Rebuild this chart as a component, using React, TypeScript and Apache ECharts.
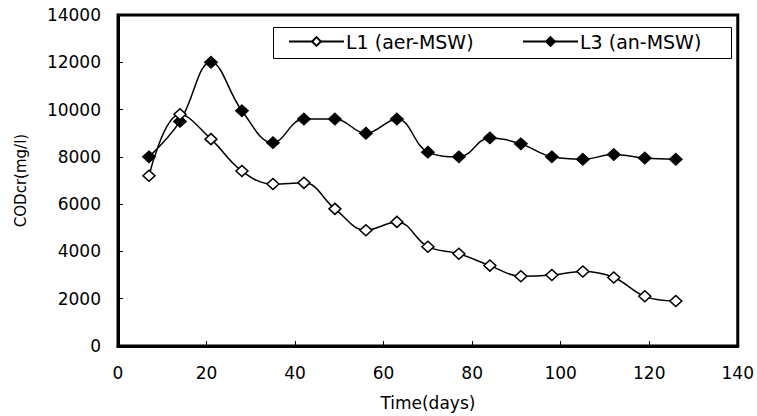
import React, { useEffect, useRef } from "react";
import * as echarts from "echarts";

const days = [7, 14, 21, 28, 35, 42, 49, 56, 63, 70, 77, 84, 91, 98, 105, 112, 119, 126];
const l1Values = [7200, 9800, 8750, 7400, 6850, 6900, 5800, 4900, 5250, 4200, 3900, 3400, 2950, 3000, 3150, 2900, 2100, 1900];
const l3Values = [8000, 9500, 12000, 9950, 8600, 9600, 9600, 9000, 9600, 8200, 8000, 8800, 8550, 8000, 7900, 8100, 7950, 7900];
const l1Name = "L1 (aer-MSW)";
const l3Name = "L3 (an-MSW)";
const xAxisTitle = "Time(days)";
const yAxisTitle = "CODcr(mg/l)";

const FONT = "DejaVu Sans";

export default function App() {
  const ref = useRef<HTMLDivElement>(null);
  useEffect(() => {
    if (!ref.current) return;
    const chart = echarts.init(ref.current, undefined, { renderer: "svg" });
    const toPairs = (vals: number[]) => days.map((d, i) => [d, vals[i]]);
    const legendText = { fontFamily: FONT, fontSize: 19, color: "#000" };
    chart.setOption({
      animation: false,
      backgroundColor: "#fff",
      grid: {
        left: 118,
        top: 15,
        right: 19,
        bottom: 67,
        show: true,
        borderColor: "#000",
        borderWidth: 3,
        backgroundColor: "transparent",
      },
      graphic: [
        {
          type: "rect",
          shape: { x: 273.5, y: 27.5, width: 458, height: 31 },
          style: { fill: "#fff", stroke: "#000", lineWidth: 1 },
          z: 5,
        },
      ],
      legend: [
        {
          data: [l1Name],
          left: 288,
          top: 32,
          itemWidth: 55,
          itemHeight: 11,
          itemGap: 0,
          padding: 0,
          textStyle: { ...legendText, padding: [0, 0, 0, -3] },
          z: 10,
        },
        {
          data: [l3Name],
          left: 522,
          top: 32,
          itemWidth: 55,
          itemHeight: 11,
          itemGap: 0,
          padding: 0,
          textStyle: { ...legendText, padding: [0, 0, 0, -3] },
          z: 10,
        },
      ],
      xAxis: {
        type: "value",
        min: 0,
        max: 140,
        interval: 20,
        name: xAxisTitle,
        nameLocation: "middle",
        nameGap: 48,
        nameTextStyle: { fontFamily: FONT, fontSize: 17, color: "#000" },
        axisLine: { show: true, lineStyle: { color: "#000", width: 3 } },
        axisTick: { show: true, inside: true, length: 5, lineStyle: { color: "#000", width: 1 } },
        axisLabel: { fontFamily: FONT, fontSize: 17, color: "#000", margin: 18 },
        splitLine: { show: false },
      },
      yAxis: {
        type: "value",
        min: 0,
        max: 14000,
        interval: 2000,
        name: yAxisTitle,
        nameLocation: "middle",
        nameGap: 90,
        nameRotate: 90,
        nameTextStyle: { fontFamily: FONT, fontSize: 15, color: "#000" },
        axisLine: { show: true, lineStyle: { color: "#000", width: 3 } },
        axisTick: { show: true, inside: true, length: 5, lineStyle: { color: "#000", width: 1 } },
        axisLabel: {
          fontFamily: FONT,
          fontSize: 17,
          color: "#000",
          margin: 17,
          formatter: (v: number) => String(v),
        },
        splitLine: { show: false },
      },
      series: [
        {
          name: l3Name,
          type: "line",
          data: toPairs(l3Values),
          smooth: 0.4,
          symbol: "diamond",
          symbolSize: [13, 12],
          lineStyle: { color: "#000", width: 1.5 },
          itemStyle: { color: "#000", borderColor: "#000", borderWidth: 1 },
          z: 2,
        },
        {
          name: l1Name,
          type: "line",
          data: toPairs(l1Values),
          smooth: 0.4,
          symbol: "diamond",
          symbolSize: [12, 11],
          lineStyle: { color: "#000", width: 1.5 },
          itemStyle: { color: "#fff", borderColor: "#000", borderWidth: 1.5 },
          z: 3,
        },
      ],
    });
    return () => chart.dispose();
  }, []);
  return (
    <div
      ref={ref}
      style={{ position: "fixed", left: 0, top: 0, width: 757, height: 416, background: "#fff" }}
    />
  );
}
